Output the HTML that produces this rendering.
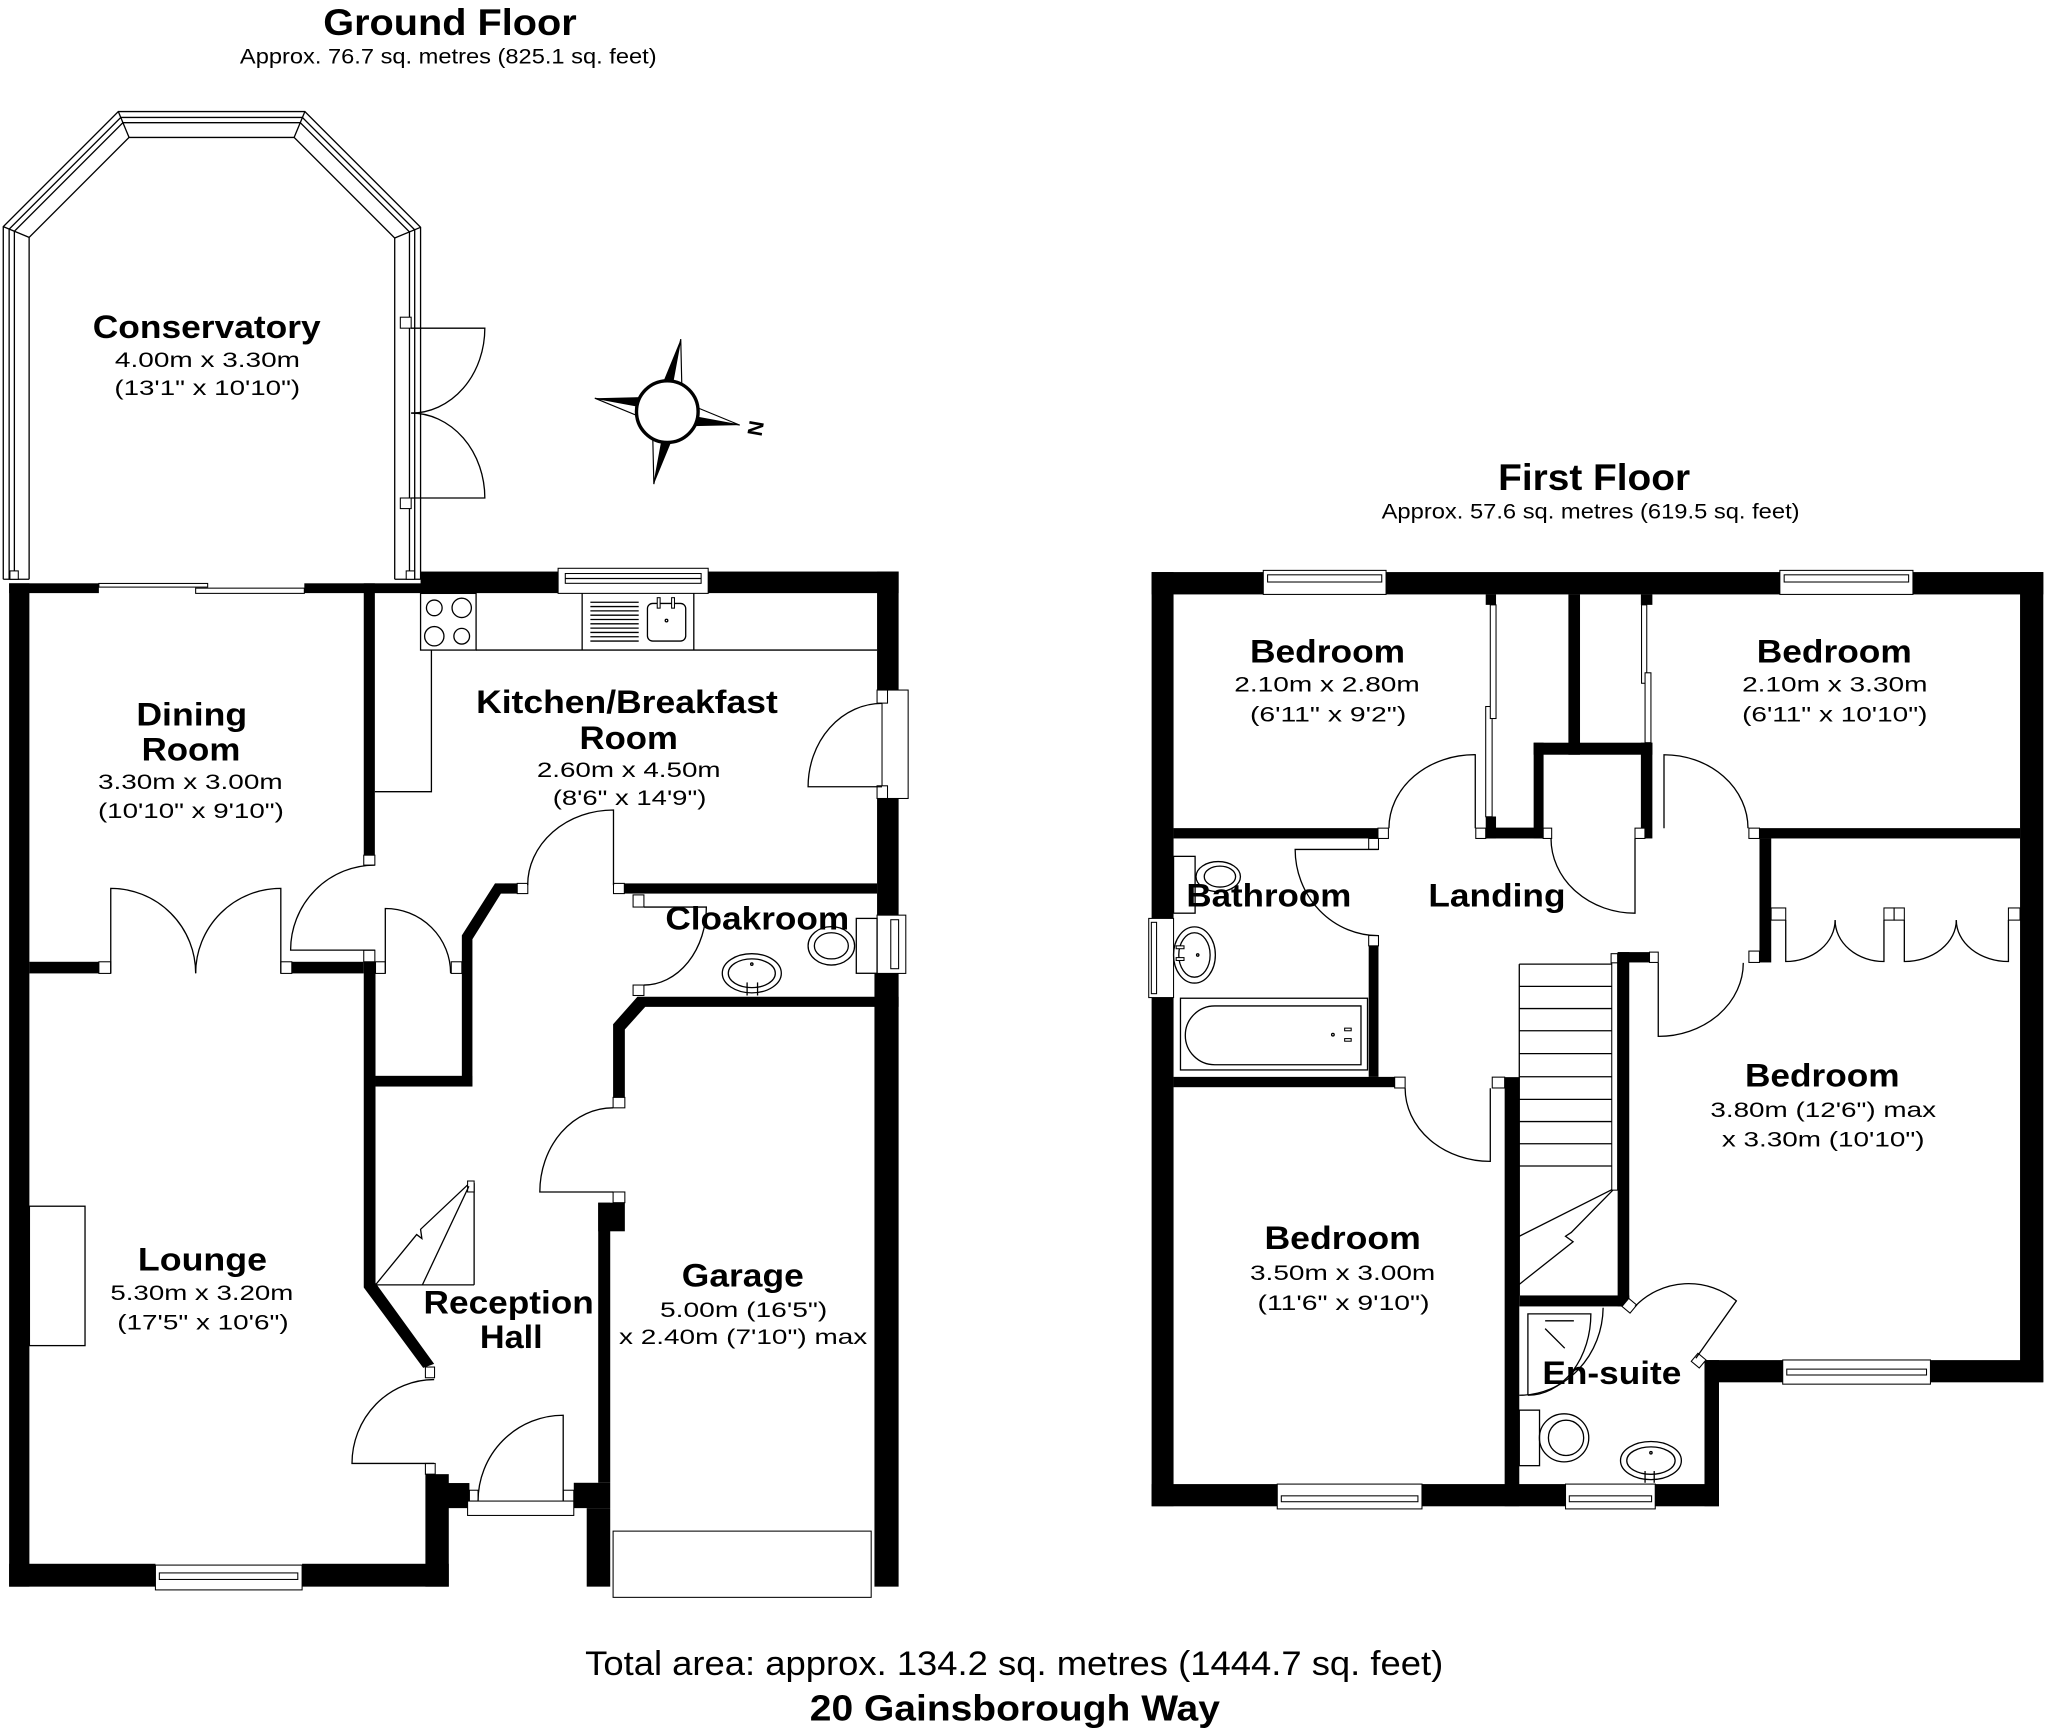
<!DOCTYPE html>
<html><head><meta charset="utf-8">
<style>
html,body{margin:0;padding:0;background:#fff;}
svg{display:block;}
.w{fill:#000;stroke:none;}
.l{fill:none;stroke:#000;stroke-width:1;}
.j{fill:#fff;stroke:#000;stroke-width:0.8;}
.f{fill:#fff;stroke:#000;stroke-width:0.9;}
text{font-family:"Liberation Sans",Arial,sans-serif;fill:#000;}
.b{font-weight:bold;font-size:24.5px;}
.r{font-size:16.5px;}
.t{font-weight:bold;font-size:28.5px;}
.s{font-size:16px;}
</style></head><body>
<svg width="2048" height="1731" viewBox="0 0 1568 1325" preserveAspectRatio="none" xmlns="http://www.w3.org/2000/svg">
<rect x="0" y="0" width="1568" height="1325" fill="#fff"/>

<!-- ================= HEADERS ================= -->
<text x="247.5" y="26.8" class="t" textLength="194" lengthAdjust="spacingAndGlyphs">Ground Floor</text>
<text x="183.7" y="48.5" class="s" textLength="319" lengthAdjust="spacingAndGlyphs">Approx. 76.7 sq. metres (825.1 sq. feet)</text>
<text x="1147" y="375.2" class="t" textLength="147" lengthAdjust="spacingAndGlyphs">First Floor</text>
<text x="1057.8" y="396.8" class="s" textLength="320" lengthAdjust="spacingAndGlyphs">Approx. 57.6 sq. metres (619.5 sq. feet)</text>

<!-- ================= CONSERVATORY FRAME ================= -->
<polyline class="l" points="2.5,443.4 2.5,173.5 90.6,85.4 233.4,85.4 322,174 322,443.4"/>
<polyline class="l" points="7,443.4 7,175.4 92.5,89.9 231.5,89.9 317.5,175.9 317.5,443.4"/>
<polyline class="l" points="11,443.4 11,177 94.1,93.9 229.9,93.9 313.5,177.5 313.5,443.4"/>
<polyline class="l" points="22.3,443.4 22.3,181.7 98.8,105.2 225.2,105.2 302.2,182.2 302.2,443.4"/>
<line class="l" x1="90.6" y1="85.4" x2="98.8" y2="105.2"/>
<line class="l" x1="2.5" y1="173.5" x2="22.3" y2="181.7"/>
<line class="l" x1="233.4" y1="85.4" x2="225.2" y2="105.2"/>
<line class="l" x1="322" y1="174" x2="302.2" y2="182.2"/>
<line class="l" x1="2.5" y1="443.4" x2="22.3" y2="443.4"/>
<line class="l" x1="302.2" y1="443.4" x2="322" y2="443.4"/>
<rect class="j" x="7.6" y="437" width="6.4" height="6.4"/>
<rect class="j" x="311" y="437" width="6.4" height="6.4"/>
<rect class="j" x="306.5" y="242.8" width="8.3" height="8.4"/>
<rect class="j" x="306.5" y="381.2" width="8.3" height="8.1"/>
<path class="l" d="M314.8,251.2 H371.2 A56.4,65 0 0 1 314.8,316.2"/>
<path class="l" d="M314.8,381.2 H371.2 A56.4,65 0 0 0 314.8,316.2"/>

<text x="71" y="258.8" class="b" textLength="174.5" lengthAdjust="spacingAndGlyphs">Conservatory</text>
<text x="88" y="281" class="r" textLength="141.7" lengthAdjust="spacingAndGlyphs">4.00m x 3.30m</text>
<text x="87.6" y="302.5" class="r" textLength="142.2" lengthAdjust="spacingAndGlyphs">(13'1" x 10'10")</text>

<!-- ================= COMPASS ================= -->
<polygon class="w" points="521.2,259.6 506.3,295.9 514.2,297.4"/>
<polygon class="f" points="521.2,259.6 514.2,297.4 522.1,298.9"/>
<polygon class="w" points="566.4,325.4 528.6,318.4 527.1,326.3"/>
<polygon class="f" points="566.4,325.4 528.6,318.4 530.1,310.5"/>
<polygon class="w" points="500.6,370.6 507.6,332.8 515.5,334.3"/>
<polygon class="f" points="500.6,370.6 507.6,332.8 499.7,331.3"/>
<polygon class="w" points="455.4,304.8 493.2,311.8 494.7,303.9"/>
<polygon class="f" points="455.4,304.8 493.2,311.8 491.7,319.7"/>
<circle cx="510.9" cy="315.1" r="23.6" fill="#fff" stroke="#000" stroke-width="2.6"/>
<text x="578.6" y="333.5" font-size="16" font-weight="bold" text-anchor="middle" transform="rotate(100 578.6 327.9)">N</text>

<!-- ================= GROUND FLOOR WALLS ================= -->
<rect class="w" x="7" y="446.5" width="15.5" height="768"/>
<rect class="w" x="7" y="446.5" width="68.7" height="7.5"/>
<rect class="w" x="233" y="446.5" width="90" height="7.5"/>
<rect class="w" x="322" y="437.5" width="105.3" height="16.5"/>
<rect class="w" x="542.2" y="437.5" width="145.8" height="16.5"/>
<rect class="w" x="278.5" y="446.5" width="8.5" height="208.1"/>
<polygon class="w" points="278.5,736 287.5,736 287.5,982 332.4,1044 324,1047 278.5,985.5"/>
<rect class="w" x="22.5" y="736.2" width="53.2" height="8.9"/>
<rect class="w" x="223.4" y="736.2" width="55.1" height="8.9"/>
<rect class="w" x="287.5" y="823.5" width="74.1" height="8.2"/>
<polygon class="w" points="353.6,831.7 353.6,716 379,676.2 396,676.2 396,684 383.5,684 361.7,719 361.7,831.7"/>
<rect class="w" x="478" y="676.2" width="193.5" height="7.8"/>
<rect class="w" x="671.5" y="437.5" width="16.5" height="91"/>
<rect class="w" x="671.5" y="611.2" width="16.5" height="89.3"/>
<rect class="w" x="669.5" y="745.1" width="18.5" height="469.4"/>
<polygon class="w" points="469.4,784 488,763 688,763 688,770.7 494,770.7 478.4,788 478.4,840 469.4,840"/>
<rect class="w" x="458" y="920.6" width="20.4" height="21.9"/>
<rect class="w" x="458" y="920.6" width="9.2" height="214.4"/>
<rect class="w" x="439.3" y="1135" width="27.9" height="19.4"/>
<rect class="w" x="449.2" y="1154.4" width="18" height="60.1"/>
<rect class="w" x="332.4" y="1135.2" width="27" height="19.2"/>
<rect class="w" x="325.7" y="1128.4" width="17.9" height="86.1"/>
<rect class="w" x="7" y="1197" width="112" height="17.5"/>
<rect class="w" x="231.3" y="1197" width="112.3" height="17.5"/>

<!-- ground jambs -->
<rect class="j" x="278.5" y="654.6" width="8.5" height="7.6"/>
<rect class="j" x="278.5" y="727.3" width="8.5" height="8.9"/>
<rect class="j" x="75.7" y="736.2" width="9.1" height="8.9"/>
<rect class="j" x="215" y="736.2" width="8.4" height="8.9"/>
<rect class="j" x="287.5" y="736.2" width="7.5" height="8.9"/>
<rect class="j" x="345.5" y="736.2" width="8.1" height="8.9"/>
<rect class="j" x="396" y="676.2" width="8.1" height="7.8"/>
<rect class="j" x="469.7" y="676.2" width="8.3" height="7.8"/>
<rect class="j" x="484.7" y="685" width="8.3" height="9.3"/>
<rect class="j" x="484.7" y="754" width="8.3" height="8"/>
<rect class="j" x="469.4" y="840" width="9" height="8"/>
<rect class="j" x="469.4" y="912.4" width="9" height="8.2"/>
<rect class="j" x="325.7" y="1046.4" width="7" height="8.2"/>
<rect class="j" x="325.7" y="1120.2" width="7.5" height="8.2"/>
<rect class="j" x="359.4" y="1140.7" width="6.6" height="8.3"/>
<rect class="j" x="431.2" y="1140.7" width="8.1" height="8.3"/>
<rect class="j" x="358" y="1149" width="81.3" height="11"/>

<!-- ground windows / sliding doors / garage door -->
<rect class="j" x="75.7" y="446.6" width="83.3" height="2.8"/>
<rect class="j" x="149.8" y="450.2" width="83.2" height="4"/>
<rect class="j" x="427.3" y="435" width="114.9" height="19.2"/>
<rect class="j" x="432.8" y="439" width="104" height="7.5"/>
<line class="l" x1="432.8" y1="442.8" x2="536.8" y2="442.8"/>
<rect class="j" x="675.3" y="528.2" width="20" height="83"/>
<rect class="j" x="671.5" y="528.2" width="8" height="10"/>
<rect class="j" x="671.5" y="601.5" width="8" height="9.7"/>
<rect class="j" x="671.5" y="700.5" width="22" height="44.6"/>
<rect class="j" x="682" y="704" width="6" height="37.5"/>
<rect class="j" x="119" y="1198" width="112.3" height="19"/>
<rect class="j" x="122" y="1204" width="106" height="5"/>
<rect class="j" x="469.4" y="1172" width="197.6" height="50.7"/>

<!-- ground doors -->
<path class="l" d="M287,727.3 H222.5 A64.5,65 0 0 1 287,662.2"/>
<path class="l" d="M84.8,745 V680 A65,65 0 0 1 149.8,745"/>
<path class="l" d="M215,745 V680 A65.2,65 0 0 0 149.8,745"/>
<path class="l" d="M295,745 V695.4 A50,49.6 0 0 1 345,745"/>
<path class="l" d="M469.7,677.5 V620 A65.7,57.5 0 0 0 404,677.5"/>
<path class="l" d="M675.3,602.2 H618.7 A56.6,63.8 0 0 1 675.3,538.4"/>
<path class="l" d="M493,694.3 H540.8 A47.8,59.7 0 0 1 493,754"/>
<path class="l" d="M469.4,912.4 H413.3 A56.1,64.4 0 0 1 469.4,848"/>
<path class="l" d="M332.4,1120.2 H269.5 A62.9,64.2 0 0 1 332.4,1056"/>
<path class="l" d="M431.2,1149 V1083.3 A65.2,65.7 0 0 0 366,1149"/>

<!-- kitchen fittings -->
<rect class="l" x="322" y="454.2" width="42.5" height="43.4"/>
<line class="l" x1="364.5" y1="497.6" x2="671.5" y2="497.6"/>
<polyline class="l" points="330.3,497.6 330.3,606 287,606"/>
<circle class="l" cx="332.5" cy="465.3" r="6"/>
<circle class="l" cx="353.5" cy="465.3" r="7.4"/>
<circle class="l" cx="332.5" cy="487" r="7.4"/>
<circle class="l" cx="353.5" cy="487" r="6"/>
<line class="l" x1="445.7" y1="454.2" x2="445.7" y2="497.6"/>
<line class="l" x1="531.2" y1="454.2" x2="531.2" y2="497.6"/>
<g class="l">
<line x1="452" y1="461" x2="489" y2="461"/><line x1="452" y1="464.3" x2="489" y2="464.3"/>
<line x1="452" y1="467.6" x2="489" y2="467.6"/><line x1="452" y1="470.9" x2="489" y2="470.9"/>
<line x1="452" y1="474.2" x2="489" y2="474.2"/><line x1="452" y1="477.5" x2="489" y2="477.5"/>
<line x1="452" y1="480.8" x2="489" y2="480.8"/><line x1="452" y1="484.1" x2="489" y2="484.1"/>
<line x1="452" y1="487.4" x2="489" y2="487.4"/><line x1="452" y1="490.7" x2="489" y2="490.7"/>
</g>
<rect class="l" x="495.7" y="461.9" width="29.3" height="28.8" rx="4"/>
<rect class="j" x="503.2" y="457.5" width="2.2" height="8"/>
<rect class="j" x="514.2" y="457.5" width="2.2" height="8"/>
<circle class="l" cx="510.3" cy="475" r="1"/>

<!-- cloakroom fittings -->
<rect class="l" x="655.6" y="703" width="15.9" height="42"/>
<ellipse class="l" cx="636.5" cy="724" rx="17.8" ry="14.7"/>
<ellipse class="l" cx="636.5" cy="724" rx="13" ry="10"/>
<ellipse class="l" cx="575.6" cy="745" rx="22.6" ry="15"/>
<ellipse class="l" cx="575.6" cy="745" rx="18" ry="11"/>
<line class="l" x1="572" y1="752" x2="572" y2="762"/>
<line class="l" x1="580" y1="752" x2="580" y2="762"/>
<circle class="l" cx="575.6" cy="738" r="0.9"/>

<!-- lounge chimney -->
<rect class="l" x="22.5" y="923.3" width="42.6" height="106.7"/>

<!-- ground stairs -->
<line class="l" x1="287.5" y1="983.5" x2="363" y2="983.5"/>
<line class="l" x1="363" y1="905.6" x2="363" y2="983.5"/>
<rect class="j" x="358" y="904" width="5" height="8.4"/>
<polyline class="l" points="287.5,983.5 319,945 323,948 322,941 358,907"/>
<line class="l" x1="323.4" y1="983.5" x2="359" y2="908"/>

<!-- ground labels -->
<text x="104.4" y="555.5" class="b" textLength="84.8" lengthAdjust="spacingAndGlyphs">Dining</text>
<text x="108.4" y="582" class="b" textLength="75.6" lengthAdjust="spacingAndGlyphs">Room</text>
<text x="75" y="604" class="r" textLength="141.4" lengthAdjust="spacingAndGlyphs">3.30m x 3.00m</text>
<text x="75" y="626" class="r" textLength="142.3" lengthAdjust="spacingAndGlyphs">(10'10" x 9'10")</text>
<text x="364.5" y="545.6" class="b" textLength="231" lengthAdjust="spacingAndGlyphs">Kitchen/Breakfast</text>
<text x="443.7" y="573.5" class="b" textLength="75.3" lengthAdjust="spacingAndGlyphs">Room</text>
<text x="411" y="594.6" class="r" textLength="140.7" lengthAdjust="spacingAndGlyphs">2.60m x 4.50m</text>
<text x="423.2" y="616.3" class="r" textLength="117.6" lengthAdjust="spacingAndGlyphs">(8'6" x 14'9")</text>
<text x="509.4" y="711.5" class="b" textLength="140.8" lengthAdjust="spacingAndGlyphs">Cloakroom</text>
<text x="105.6" y="972.5" class="b" textLength="98.8" lengthAdjust="spacingAndGlyphs">Lounge</text>
<text x="84.5" y="995.2" class="r" textLength="140.1" lengthAdjust="spacingAndGlyphs">5.30m x 3.20m</text>
<text x="89.8" y="1017.7" class="r" textLength="131.2" lengthAdjust="spacingAndGlyphs">(17'5" x 10'6")</text>
<text x="324.3" y="1005.4" class="b" textLength="130.3" lengthAdjust="spacingAndGlyphs">Reception</text>
<text x="367.4" y="1031.9" class="b" textLength="48.1" lengthAdjust="spacingAndGlyphs">Hall</text>
<text x="522" y="984.8" class="b" textLength="93.4" lengthAdjust="spacingAndGlyphs">Garage</text>
<text x="505.3" y="1008.1" class="r" textLength="128.1" lengthAdjust="spacingAndGlyphs">5.00m (16'5")</text>
<text x="473.9" y="1028.6" class="r" textLength="190.1" lengthAdjust="spacingAndGlyphs">x 2.40m (7'10") max</text>

<!-- ================= FIRST FLOOR WALLS ================= -->
<rect class="w" x="881.7" y="437.9" width="16.8" height="265.1"/>
<rect class="w" x="881.7" y="763.6" width="16.8" height="389.3"/>
<rect class="w" x="881.7" y="437.9" width="85.5" height="17.1"/>
<rect class="w" x="1061.2" y="437.9" width="301.5" height="17.1"/>
<rect class="w" x="1464.6" y="437.9" width="99.8" height="17.1"/>
<rect class="w" x="1546.6" y="437.9" width="17.8" height="620.1"/>
<rect class="w" x="1305" y="1041.1" width="59.9" height="17"/>
<rect class="w" x="1478" y="1041.1" width="86.4" height="17"/>
<rect class="w" x="1305" y="1041.1" width="11.1" height="111.8"/>
<rect class="w" x="881.7" y="1136" width="96.2" height="17"/>
<rect class="w" x="1088.7" y="1136" width="109.9" height="17"/>
<rect class="w" x="1267.3" y="1136" width="48.8" height="17"/>
<rect class="w" x="898.5" y="633.9" width="156.5" height="7.9"/>
<rect class="w" x="1047.9" y="724" width="7.5" height="100.3"/>
<rect class="w" x="898.5" y="824.3" width="169.3" height="7.9"/>
<rect class="w" x="1137.5" y="455" width="7.9" height="8"/>
<rect class="w" x="1137.5" y="625" width="7.9" height="16.8"/>
<rect class="w" x="1137.5" y="633.5" width="43.5" height="8.3"/>
<rect class="w" x="1200.8" y="455" width="8.9" height="122.7"/>
<rect class="w" x="1174.2" y="568.5" width="90.9" height="9.2"/>
<rect class="w" x="1174.2" y="568.5" width="7.6" height="73.3"/>
<rect class="w" x="1256.3" y="568.5" width="8.8" height="73.3"/>
<rect class="w" x="1256.3" y="455" width="8.8" height="8"/>
<rect class="w" x="1347.1" y="633.9" width="199.5" height="7.9"/>
<rect class="w" x="1347.1" y="641.8" width="9" height="94.9"/>
<rect class="w" x="1238.5" y="728.8" width="24.4" height="7.9"/>
<rect class="w" x="1238.5" y="728.8" width="8.9" height="271.2"/>
<rect class="w" x="1163.2" y="991.6" width="84.2" height="8.4"/>
<rect class="w" x="1152" y="824.5" width="11.2" height="328.4"/>

<!-- first jambs -->
<rect class="j" x="1055" y="633.9" width="8" height="7.9"/>
<rect class="j" x="1047.9" y="641.8" width="7.5" height="8.4"/>
<rect class="j" x="1047.9" y="716.1" width="7.5" height="7.9"/>
<rect class="j" x="1067.8" y="824.5" width="8" height="8.3"/>
<rect class="j" x="1142.5" y="824.5" width="9.5" height="8.3"/>
<rect class="j" x="1129.9" y="633.9" width="7.6" height="7.9"/>
<rect class="j" x="1181.5" y="633.9" width="6.5" height="7.9"/>
<rect class="j" x="1251.8" y="633.9" width="7.6" height="7.9"/>
<rect class="j" x="1339" y="633.9" width="8.1" height="7.9"/>
<rect class="j" x="1339" y="728" width="8.1" height="8.7"/>
<rect class="j" x="1262.9" y="728.8" width="6.7" height="7.9"/>
<rect class="j" x="1356" y="695" width="11.2" height="9.3"/>
<rect class="j" x="1442.4" y="695" width="7.8" height="9.3"/>
<rect class="j" x="1450.2" y="695" width="7.8" height="9.3"/>
<rect class="j" x="1537.7" y="695" width="8.9" height="9.3"/>
<rect class="j" x="-4" y="-4" width="8" height="8" transform="translate(1247.5,999.5) rotate(40)"/>
<rect class="j" x="-4" y="-4" width="8" height="8" transform="translate(1300.5,1041.5) rotate(40)"/>

<!-- wardrobe sliding doors -->
<rect class="j" x="1137.5" y="540.8" width="4.9" height="84.4"/>
<rect class="j" x="1141" y="463" width="4.4" height="87"/>
<rect class="j" x="1256.8" y="463" width="4" height="60"/>
<rect class="j" x="1259.5" y="515" width="4.5" height="53.5"/>

<!-- first windows -->
<rect class="j" x="879.5" y="703" width="19" height="60.6"/>
<rect class="j" x="881.5" y="706" width="4" height="54.6"/>
<rect class="j" x="967.2" y="436.6" width="94" height="18.4"/>
<rect class="j" x="970.5" y="440" width="87.4" height="5.5"/>
<rect class="j" x="1362.7" y="436.6" width="101.9" height="18.4"/>
<rect class="j" x="1366" y="440" width="95.3" height="5.5"/>
<rect class="j" x="1364.9" y="1041" width="113.1" height="18.5"/>
<rect class="j" x="1368" y="1048" width="107" height="4.5"/>
<rect class="j" x="977.9" y="1136" width="110.8" height="19"/>
<rect class="j" x="981" y="1145" width="104.6" height="4.5"/>
<rect class="j" x="1198.6" y="1136" width="68.7" height="19"/>
<rect class="j" x="1201.5" y="1145" width="63" height="4.5"/>

<!-- first doors -->
<path class="l" d="M1129.5,634 V577.7 A65.6,56.3 0 0 0 1063.4,634"/>
<path class="l" d="M1251.8,641.8 V699 A64.3,57.2 0 0 1 1187.5,641.8"/>
<path class="l" d="M1274,634 V577.7 A64.3,56.3 0 0 1 1338.3,634"/>
<path class="l" d="M1055.4,650.2 H991.6 A63.8,66 0 0 0 1055.4,716.2"/>
<path class="l" d="M1141,833 V889 A65.2,56 0 0 1 1075.8,833"/>
<path class="l" d="M1269.6,737 V793.3 A65.1,56.3 0 0 0 1334.7,737"/>
<path class="l" d="M1367.2,704.3 V736 A37.8,31.7 0 0 0 1405,704.3"/>
<path class="l" d="M1442.4,704.3 V736 A37.4,31.7 0 0 1 1405,704.3"/>
<path class="l" d="M1458,704.3 V736 A39.8,31.7 0 0 0 1497.8,704.3"/>
<path class="l" d="M1537.7,704.3 V736 A39.9,31.7 0 0 1 1497.8,704.3"/>
<path class="l" d="M1298.4,1039.7 L1329.4,995.8 A57,57 0 0 0 1251.8,1000"/>

<!-- first stairs -->
<g class="l">
<line x1="1163.2" y1="738" x2="1236.3" y2="738"/>
<line x1="1163.2" y1="755" x2="1236.3" y2="755"/>
<line x1="1163.2" y1="772" x2="1236.3" y2="772"/>
<line x1="1163.2" y1="789" x2="1236.3" y2="789"/>
<line x1="1163.2" y1="806.5" x2="1236.3" y2="806.5"/>
<line x1="1163.2" y1="824.2" x2="1236.3" y2="824.2"/>
<line x1="1163.2" y1="841.5" x2="1236.3" y2="841.5"/>
<line x1="1163.2" y1="858.5" x2="1236.3" y2="858.5"/>
<line x1="1163.2" y1="875.5" x2="1236.3" y2="875.5"/>
<line x1="1163.2" y1="892.5" x2="1236.3" y2="892.5"/>
<line x1="1163.2" y1="738" x2="1163.2" y2="991.6"/>
<line x1="1236.3" y1="909.5" x2="1163.2" y2="946.3"/>
<polyline points="1236.3,909.5 1203,943.4 1198.6,946.3 1204.4,950.5 1163.2,983.1"/>
</g>
<rect class="j" x="1234" y="733" width="4.5" height="178"/>
<rect class="j" x="1233.5" y="730" width="5" height="7"/>

<!-- bathroom fittings -->
<rect class="l" x="898.5" y="655.5" width="16.5" height="43.5"/>
<ellipse class="l" cx="932.7" cy="671" rx="17" ry="11.5"/>
<ellipse class="l" cx="934" cy="671" rx="12" ry="8"/>
<ellipse class="l" cx="914.5" cy="731" rx="16" ry="21.5"/>
<ellipse class="l" cx="914.5" cy="731" rx="12" ry="17"/>
<rect class="j" x="900.5" y="724" width="6" height="2.2"/>
<rect class="j" x="900.5" y="733" width="6" height="2.2"/>
<circle class="l" cx="917" cy="731" r="0.9"/>
<rect class="l" x="903.8" y="764.1" width="143.2" height="54.9"/>
<path class="l" d="M930,770 H1042 V815 H930 A22.5,22.5 0 0 1 930,770 Z"/>
<rect class="j" x="1029.5" y="787" width="5" height="2"/>
<rect class="j" x="1029.5" y="795" width="5" height="2"/>
<circle class="l" cx="1020.5" cy="792" r="1"/>

<!-- en-suite fittings -->
<path class="l" d="M1169.8,1068 V1005.7 H1218 A48.2,62.3 0 0 1 1169.8,1068"/>
<path class="l" d="M1227.4,1001 A64,68 0 0 1 1163.2,1068"/>
<line class="l" x1="1183" y1="1011" x2="1205" y2="1011"/>
<line class="l" x1="1183" y1="1017" x2="1198" y2="1032"/>
<rect class="l" x="1163.2" y="1079.4" width="15.5" height="42.5"/>
<ellipse class="l" cx="1197.5" cy="1100.6" rx="18.9" ry="18.4"/>
<ellipse class="l" cx="1199" cy="1100.6" rx="13.5" ry="13.5"/>
<ellipse class="l" cx="1264" cy="1118" rx="23.3" ry="14.6"/>
<ellipse class="l" cx="1264" cy="1118" rx="18.5" ry="10.5"/>
<line class="l" x1="1259.5" y1="1126" x2="1259.5" y2="1135"/>
<line class="l" x1="1266.5" y1="1126" x2="1266.5" y2="1135"/>
<circle class="l" cx="1264" cy="1112" r="0.9"/>

<!-- first labels -->
<text x="957" y="507.3" class="b" textLength="118.8" lengthAdjust="spacingAndGlyphs">Bedroom</text>
<text x="945" y="529.4" class="r" textLength="142" lengthAdjust="spacingAndGlyphs">2.10m x 2.80m</text>
<text x="957" y="552.1" class="r" textLength="119.7" lengthAdjust="spacingAndGlyphs">(6'11" x 9'2")</text>
<text x="1345" y="507.3" class="b" textLength="118.7" lengthAdjust="spacingAndGlyphs">Bedroom</text>
<text x="1333.8" y="529.4" class="r" textLength="141.9" lengthAdjust="spacingAndGlyphs">2.10m x 3.30m</text>
<text x="1333.8" y="552.1" class="r" textLength="141.9" lengthAdjust="spacingAndGlyphs">(6'11" x 10'10")</text>
<text x="908.3" y="693.7" class="b" textLength="126.3" lengthAdjust="spacingAndGlyphs">Bathroom</text>
<text x="1093.6" y="693.7" class="b" textLength="105" lengthAdjust="spacingAndGlyphs">Landing</text>
<text x="1336" y="831.6" class="b" textLength="118.4" lengthAdjust="spacingAndGlyphs">Bedroom</text>
<text x="1309.5" y="855.1" class="r" textLength="172.8" lengthAdjust="spacingAndGlyphs">3.80m (12'6") max</text>
<text x="1318.3" y="877.7" class="r" textLength="155.2" lengthAdjust="spacingAndGlyphs">x 3.30m (10'10")</text>
<text x="968.1" y="956.2" class="b" textLength="119.7" lengthAdjust="spacingAndGlyphs">Bedroom</text>
<text x="957" y="979.7" class="r" textLength="141.9" lengthAdjust="spacingAndGlyphs">3.50m x 3.00m</text>
<text x="962.8" y="1002.9" class="r" textLength="131.7" lengthAdjust="spacingAndGlyphs">(11'6" x 9'10")</text>
<text x="1180.9" y="1059.5" class="b" textLength="106.4" lengthAdjust="spacingAndGlyphs">En-suite</text>

<!-- ================= FOOTER ================= -->
<text x="448" y="1282" font-size="26" textLength="657" lengthAdjust="spacingAndGlyphs">Total area: approx. 134.2 sq. metres (1444.7 sq. feet)</text>
<text x="620" y="1317" font-size="28" font-weight="bold" textLength="314" lengthAdjust="spacingAndGlyphs">20 Gainsborough Way</text>
</svg>
</body></html>
